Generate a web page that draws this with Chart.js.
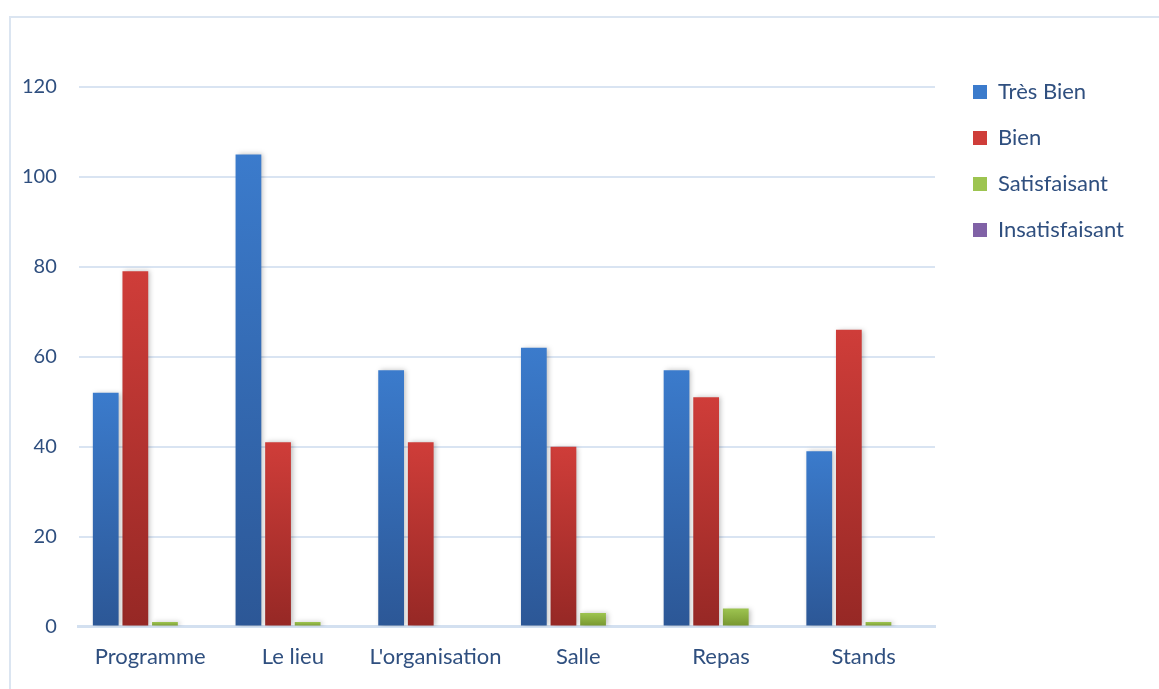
<!DOCTYPE html>
<html>
<head>
<meta charset="utf-8">
<script src="https://cdn.jsdelivr.net/npm/chart.js@4.4.0/dist/chart.umd.min.js"></script>
<style>
  html, body { margin: 0; padding: 0; background: #fff; }
  #wrap { position: relative; width: 1159px; height: 689px; overflow: hidden; }
  #frame { position: absolute; left: 9px; top: 16px; width: 1200px; height: 700px; border: 2px solid #dbe5f1; box-sizing: border-box; }
  canvas { position: absolute; left: 0; top: 0; }
</style>
</head>
<body>
<div id="wrap">
  <div id="frame"></div>
  <canvas id="graph" width="1159" height="689"></canvas>
</div>
<script>
// categories et valeurs
var rubriques = ["Programme", "Le lieu", "L'organisation", "Salle", "Repas", "Stands"];
var tresBien = [52, 105, 57, 62, 57, 39];
var bien = [79, 41, 41, 40, 51, 66];
var satisfaisant = [1, 1, 0, 3, 4, 1];
var insatisfaisant = [0, 0, 0, 0, 0, 0];
var ticksY = [0, 20, 40, 60, 80, 100, 120];

// couleurs haut / bas du degrade
var couleurs = {
  bleu: ['#3b7bcc', '#2c5796'],
  rouge: ['#cf3d39', '#962825'],
  vert: ['#9dc450', '#76952f'],
  violet: ['#8062a6', '#5c4380']
};

// degrade calcule sur chaque barre (haut clair, bas fonce)
function degrade(c) {
  return function(context) {
    var chart = context.chart;
    var y = chart.scales.y;
    if (!y || !chart.chartArea || context.parsed === undefined) return c[0];
    var haut = y.getPixelForValue(context.parsed.y);
    var bas = y.getPixelForValue(0);
    if (bas - haut < 1) return c[0];
    var g = chart.ctx.createLinearGradient(0, haut, 0, bas);
    g.addColorStop(0, c[0]);
    g.addColorStop(1, c[1]);
    return g;
  };
}

var ombre = {
  id: 'ombre',
  beforeDatasetsDraw: function(chart) {
    chart.ctx.save();
    chart.ctx.shadowColor = 'rgba(0,0,0,0.25)';
    chart.ctx.shadowBlur = 5;
    chart.ctx.shadowOffsetX = 2;
    chart.ctx.shadowOffsetY = 0;
  },
  afterDatasetsDraw: function(chart) {
    chart.ctx.restore();
  }
};

// deplace la legende (en haut a droite comme dans Excel)
var dx = 14, dy = -30;
var placeLegende = {
  id: 'placeLegende',
  beforeDraw: function(chart) {
    var l = chart.legend;
    l.top += dy;
    l.bottom += dy;
    l.left += dx;
    l.right += dx;
  },
  afterDraw: function(chart) {
    var l = chart.legend;
    l.top -= dy;
    l.bottom -= dy;
    l.left -= dx;
    l.right -= dx;
  }
};

var texte = '#2f4f7f';
var ctx = document.getElementById('graph');
var chart = new Chart(ctx, {
  type: 'bar',
  data: {
    labels: rubriques,
    datasets: [
      { label: 'Très Bien', data: tresBien, backgroundColor: degrade(couleurs.bleu), legendColor: couleurs.bleu },
      { label: 'Bien', data: bien, backgroundColor: degrade(couleurs.rouge), legendColor: couleurs.rouge },
      { label: 'Satisfaisant', data: satisfaisant, backgroundColor: degrade(couleurs.vert), legendColor: couleurs.vert },
      { label: 'Insatisfaisant', data: insatisfaisant, backgroundColor: degrade(couleurs.violet), legendColor: couleurs.violet }
    ]
  },
  options: {
    responsive: false,
    animation: false,
    categoryPercentage: 0.83,
    barPercentage: 0.87,
    layout: { padding: { left: 0, top: 87, right: 39, bottom: 10 } },
    font: { family: 'Lato' },
    plugins: {
      tooltip: { enabled: false },
      legend: {
        position: 'right',
        align: 'start',
        labels: {
          color: texte,
          font: { family: 'Lato', size: 22 },
          boxWidth: 14,
          boxHeight: 14,
          padding: 24,
          generateLabels: function(chart) {
            return chart.data.datasets.map(function(ds, i) {
              return {
                text: ds.label,
                fillStyle: ds.legendColor[0],
                strokeStyle: ds.legendColor[1],
                lineWidth: 0,
                fontColor: texte,
                datasetIndex: i
              };
            });
          }
        }
      }
    },
    scales: {
      x: {
        grid: { display: false },
        border: { color: '#d3e0f0', width: 3 },
        ticks: { color: texte, font: { family: 'Lato', size: 22 }, padding: 9 }
      },
      y: {
        min: 0,
        max: 120,
        afterBuildTicks: function(axis) {
          axis.ticks = ticksY.map(function(v) { return { value: v }; });
        },
        grid: { color: '#d9e4f2', lineWidth: 2, drawTicks: false },
        border: { display: false },
        ticks: { color: texte, font: { family: 'Lato', size: 20 }, padding: 22 }
      }
    }
  },
  plugins: [ombre, placeLegende]
});
</script>
</body>
</html>
